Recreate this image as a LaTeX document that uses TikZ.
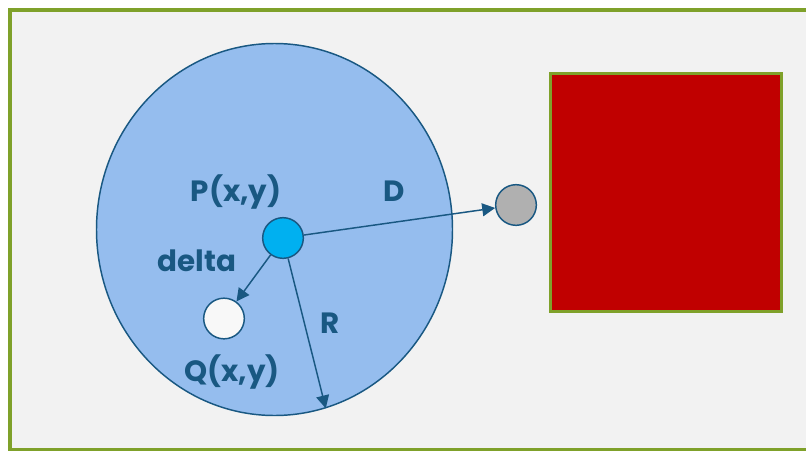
\documentclass[tikz,border=0pt]{standalone}
\usepackage{fontspec}
\setsansfont{Poppins}
\usetikzlibrary{positioning,arrows.meta,shapes.geometric}
\definecolor{PanelGrey}{RGB}{242,242,242}
\definecolor{FrameGreen}{RGB}{127,161,42}
\definecolor{RangeBlue}{RGB}{149,189,238}
\definecolor{EdgeBlue}{RGB}{25,88,130}
\definecolor{PointCyan}{RGB}{0,176,240}
\definecolor{PointWhite}{RGB}{248,248,248}
\definecolor{PointGrey}{RGB}{176,176,176}
\definecolor{BlockRed}{RGB}{192,0,0}
\tikzset{
  ray/.style={-{Triangle[length=3.4mm,width=3.4mm]},line width=1.1pt,draw=EdgeBlue},
  dot/.style={circle,draw=EdgeBlue,line width=1.1pt,minimum size=30.5pt,inner sep=0pt},
  tag/.style={text=EdgeBlue,font=\sffamily\bfseries\fontsize{22}{26}\selectfont},
  rangebox/.style={ellipse,draw=EdgeBlue,fill=RangeBlue,line width=1.1pt,inner sep=0pt},
  blockbox/.style={rectangle,draw=FrameGreen,fill=BlockRed,line width=2.3pt,inner sep=0pt}
}
\begin{document}
\begin{tikzpicture}[x=0.75pt,y=-0.75pt]
  \useasboundingbox (0,0) rectangle (806,450);
  \fill[white] (0,0) rectangle (806,450);
  \draw[FrameGreen,line width=2.3pt,fill=PanelGrey] (10,10) rectangle (820,450);
  \node[rangebox,minimum width=267pt,minimum height=279pt] (range) at (274.5,229.5) {};
  \node[blockbox,minimum width=173pt,minimum height=178pt] (block) at (666,192.5) {};
  \node[dot,fill=PointCyan] (p) at (283,238) {};
  \node[dot,fill=PointWhite] (q) at (224,318.5) {};
  \node[dot,fill=PointGrey] (d) at (516,205) {};
  \coordinate (rim) at (range.-74.7);
  \draw[ray] (p) -- (d);
  \draw[ray] (p) -- (q);
  \draw[ray] (p) -- (rim);
  \node[tag] (plabel) at (236,192) {P(x,y)};
  \node[tag] (dlabel) at (394,191) {D};
  \node[tag] (deltalabel) at (197,261) {delta};
  \node[tag] (qlabel) at (232,372) {Q(x,y)};
  \node[tag] (rlabel) at (330,323) {R};
\end{tikzpicture}
\end{document}
